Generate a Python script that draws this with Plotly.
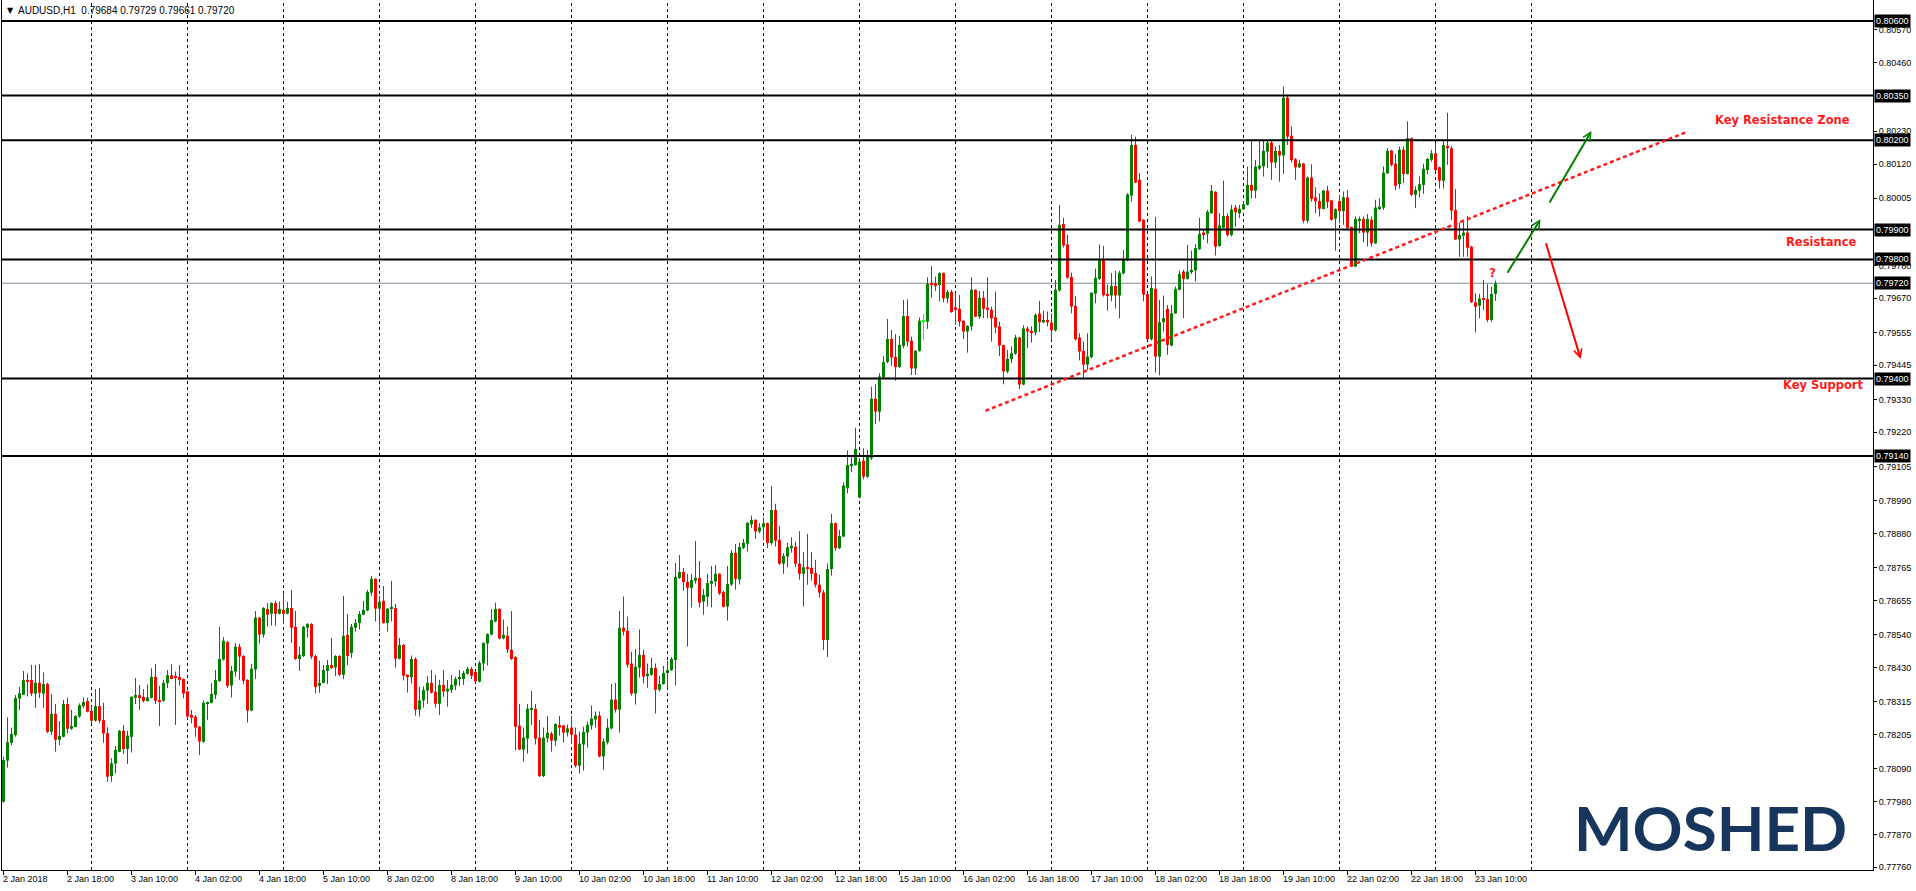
import pandas as pd
import plotly.graph_objects as go

# ---------------- data ----------------
symbol_text = "AUDUSD,H1  0.79684 0.79729 0.79661 0.79720"

opens = [
0.77980,0.78118,0.78178,0.78204,0.78326,0.78339,0.78389,0.78389,0.78343,0.78379,
0.78343,0.78375,0.78215,0.78275,0.78188,0.78198,0.78308,0.78225,0.78231,0.78266,
0.78301,0.78318,0.78285,0.78252,0.78301,0.78254,0.78210,0.78066,0.78108,0.78148,
0.78218,0.78157,0.78198,0.78329,0.78338,0.78332,0.78318,0.78329,0.78399,0.78319,
0.78319,0.78378,0.78405,0.78400,0.78399,0.78392,0.78350,0.78271,0.78265,0.78232,
0.78181,0.78309,0.78312,0.78339,0.78385,0.78457,0.78516,0.78370,0.78417,0.78500,
0.78469,0.78389,0.78286,0.78424,0.78598,0.78541,0.78627,0.78611,0.78647,0.78611,
0.78624,0.78611,0.78630,0.78567,0.78459,0.78469,0.78564,0.78577,0.78469,0.78369,
0.78379,0.78420,0.78439,0.78431,0.78469,0.78406,0.78540,0.78479,0.78564,0.78580,
0.78608,0.78622,0.78682,0.78728,0.78628,0.78654,0.78580,0.78628,0.78630,0.78460,
0.78506,0.78406,0.78398,0.78459,0.78289,0.78320,0.78353,0.78379,0.78349,0.78309,
0.78372,0.78350,0.78355,0.78370,0.78392,0.78392,0.78410,0.78426,0.78416,0.78383,
0.78444,0.78511,0.78541,0.78585,0.78627,0.78528,0.78537,0.78490,0.78466,0.78235,
0.78155,0.78192,0.78290,0.78292,0.78195,0.78066,0.78193,0.78209,0.78185,0.78238,
0.78236,0.78212,0.78229,0.78205,0.78101,0.78172,0.78212,0.78236,0.78256,0.78269,
0.78132,0.78179,0.78226,0.78323,0.78289,0.78564,0.78554,0.78444,0.78343,0.78430,
0.78473,0.78402,0.78406,0.78429,0.78356,0.78375,0.78412,0.78422,0.78456,0.78731,
0.78751,0.78718,0.78698,0.78722,0.78731,0.78652,0.78668,0.78712,0.78719,0.78745,
0.78684,0.78635,0.78709,0.78815,0.78726,0.78832,0.78846,0.78911,0.78926,0.78887,
0.78901,0.78915,0.78848,0.78959,0.78859,0.78779,0.78803,0.78831,0.78836,0.78779,
0.78745,0.78767,0.78765,0.78747,0.78708,0.78682,0.78523,0.78761,0.78915,0.78831,
0.78870,0.79032,0.79110,0.79110,0.79001,0.79125,0.79071,0.79133,0.79332,0.79289,
0.79405,0.79456,0.79533,0.79473,0.79439,0.79510,0.79610,0.79527,0.79434,0.79493,
0.79594,0.79591,0.79720,0.79720,0.79714,0.79754,0.79669,0.79691,0.79639,0.79634,
0.79594,0.79558,0.79575,0.79698,0.79608,0.79671,0.79638,0.79631,0.79606,0.79575,
0.79512,0.79424,0.79465,0.79484,0.79538,0.79380,0.79568,0.79560,0.79555,0.79618,
0.79589,0.79597,0.79588,0.79562,0.79696,0.79919,0.79850,0.79741,0.79644,0.79538,
0.79493,0.79447,0.79472,0.79685,0.79735,0.79798,0.79684,0.79679,0.79711,0.79679,
0.79753,0.79796,0.80014,0.80184,0.80067,0.79933,0.79684,0.79532,0.79701,0.79474,
0.79589,0.79634,0.79511,0.79619,0.79698,0.79759,0.79735,0.79757,0.79763,0.79834,
0.79890,0.79886,0.79955,0.80027,0.79845,0.79906,0.79946,0.79882,0.79974,0.79955,
0.79968,0.79983,0.80050,0.80031,0.80105,0.80112,0.80162,0.80192,0.80125,0.80164,
0.80149,0.80343,0.80215,0.80136,0.80109,0.80122,0.79930,0.80075,0.80008,0.79996,
0.79969,0.80031,0.79998,0.79937,0.79996,0.79962,0.80008,0.79909,0.79776,0.79930,
0.79936,0.79890,0.79933,0.79854,0.79971,0.79974,0.80089,0.80165,0.80121,0.80053,
0.80168,0.80087,0.80207,0.80017,0.80031,0.80050,0.80100,0.80134,0.80156,0.80109,
0.80064,0.80181,0.80173,0.79966,0.79867,0.79880,0.79890,0.79843,0.79656,0.79645,
0.79669,0.79667,0.79597,0.79684]

highs = [
0.78131,0.78263,0.78229,0.78338,0.78366,0.78419,0.78411,0.78439,0.78439,0.78442,
0.78414,0.78380,0.78342,0.78308,0.78251,0.78322,0.78330,0.78288,0.78271,0.78310,
0.78330,0.78329,0.78301,0.78358,0.78362,0.78312,0.78230,0.78126,0.78167,0.78221,
0.78238,0.78218,0.78334,0.78395,0.78372,0.78358,0.78374,0.78428,0.78442,0.78369,
0.78389,0.78422,0.78442,0.78417,0.78439,0.78394,0.78352,0.78288,0.78271,0.78234,
0.78320,0.78316,0.78378,0.78422,0.78568,0.78533,0.78520,0.78436,0.78513,0.78510,
0.78472,0.78391,0.78443,0.78620,0.78600,0.78633,0.78647,0.78649,0.78655,0.78652,
0.78681,0.78651,0.78691,0.78620,0.78500,0.78570,0.78579,0.78579,0.78473,0.78453,
0.78439,0.78456,0.78530,0.78472,0.78472,0.78671,0.78610,0.78577,0.78594,0.78620,
0.78654,0.78691,0.78738,0.78730,0.78671,0.78704,0.78630,0.78721,0.78644,0.78530,
0.78510,0.78408,0.78471,0.78465,0.78365,0.78367,0.78402,0.78422,0.78406,0.78389,
0.78422,0.78389,0.78406,0.78400,0.78422,0.78419,0.78433,0.78433,0.78419,0.78453,
0.78515,0.78545,0.78627,0.78648,0.78629,0.78591,0.78568,0.78620,0.78468,0.78308,
0.78229,0.78308,0.78352,0.78308,0.78255,0.78229,0.78268,0.78215,0.78243,0.78268,
0.78238,0.78239,0.78269,0.78229,0.78215,0.78232,0.78249,0.78303,0.78283,0.78283,
0.78192,0.78259,0.78375,0.78379,0.78620,0.78669,0.78601,0.78483,0.78493,0.78558,
0.78490,0.78444,0.78463,0.78444,0.78402,0.78436,0.78453,0.78466,0.78781,0.78808,
0.78765,0.78745,0.78745,0.78855,0.78788,0.78694,0.78745,0.78771,0.78775,0.78747,
0.78688,0.78771,0.78825,0.78845,0.78849,0.78862,0.78918,0.78940,0.78928,0.78915,
0.78934,0.78917,0.79040,0.78980,0.78906,0.78814,0.78850,0.78868,0.78853,0.78888,
0.78818,0.78879,0.78818,0.78792,0.78742,0.78691,0.78780,0.78946,0.78917,0.78892,
0.79052,0.79159,0.79141,0.79235,0.79133,0.79166,0.79161,0.79373,0.79381,0.79418,
0.79476,0.79600,0.79563,0.79549,0.79544,0.79664,0.79666,0.79541,0.79496,0.79605,
0.79617,0.79740,0.79778,0.79742,0.79756,0.79756,0.79698,0.79698,0.79687,0.79681,
0.79596,0.79579,0.79740,0.79700,0.79694,0.79694,0.79740,0.79642,0.79692,0.79591,
0.79514,0.79496,0.79508,0.79547,0.79540,0.79579,0.79575,0.79575,0.79619,0.79661,
0.79628,0.79625,0.79619,0.79731,0.79983,0.79940,0.79882,0.79756,0.79676,0.79552,
0.79524,0.79552,0.79690,0.79769,0.79850,0.79845,0.79715,0.79754,0.79762,0.79762,
0.79832,0.80022,0.80218,0.80212,0.80089,0.79935,0.79687,0.79743,0.79943,0.79664,
0.79679,0.79647,0.79647,0.79709,0.79763,0.79765,0.79849,0.79830,0.79851,0.79940,
0.79899,0.79966,0.80050,0.80029,0.79955,0.80064,0.79955,0.79983,0.79983,0.79983,
0.79994,0.80112,0.80201,0.80134,0.80199,0.80198,0.80198,0.80198,0.80179,0.80184,
0.80380,0.80349,0.80246,0.80140,0.80134,0.80124,0.80078,0.80119,0.80042,0.80022,
0.80033,0.80047,0.80000,0.79971,0.80017,0.80028,0.80033,0.79910,0.79944,0.79944,
0.79944,0.79952,0.79944,0.80000,0.80005,0.80112,0.80172,0.80168,0.80153,0.80179,
0.80179,0.80263,0.80209,0.80045,0.80078,0.80121,0.80140,0.80168,0.80190,0.80111,
0.80201,0.80292,0.80181,0.80036,0.79924,0.79927,0.79946,0.79845,0.79686,0.79684,
0.79731,0.79717,0.79709,0.79729]

lows = [
0.77977,0.78094,0.78170,0.78198,0.78288,0.78338,0.78333,0.78335,0.78295,0.78328,
0.78295,0.78210,0.78204,0.78148,0.78170,0.78196,0.78209,0.78221,0.78230,0.78262,
0.78294,0.78280,0.78243,0.78249,0.78243,0.78178,0.78047,0.78047,0.78075,0.78146,
0.78140,0.78107,0.78145,0.78308,0.78288,0.78313,0.78316,0.78326,0.78308,0.78234,
0.78316,0.78361,0.78391,0.78238,0.78370,0.78327,0.78257,0.78243,0.78198,0.78137,
0.78178,0.78254,0.78310,0.78325,0.78383,0.78454,0.78362,0.78330,0.78400,0.78389,
0.78374,0.78246,0.78284,0.78392,0.78511,0.78531,0.78568,0.78571,0.78571,0.78609,
0.78578,0.78609,0.78513,0.78456,0.78419,0.78466,0.78531,0.78459,0.78343,0.78346,
0.78377,0.78375,0.78426,0.78402,0.78402,0.78392,0.78439,0.78463,0.78551,0.78558,
0.78606,0.78619,0.78671,0.78585,0.78551,0.78578,0.78551,0.78585,0.78430,0.78458,
0.78387,0.78346,0.78377,0.78269,0.78266,0.78296,0.78309,0.78343,0.78296,0.78271,
0.78332,0.78299,0.78345,0.78355,0.78369,0.78372,0.78406,0.78392,0.78379,0.78381,
0.78419,0.78437,0.78539,0.78582,0.78525,0.78525,0.78479,0.78456,0.78152,0.78153,
0.78115,0.78142,0.78238,0.78172,0.78063,0.78063,0.78179,0.78148,0.78168,0.78202,
0.78179,0.78199,0.78175,0.78095,0.78075,0.78085,0.78162,0.78222,0.78229,0.78129,
0.78088,0.78172,0.78223,0.78279,0.78212,0.78538,0.78430,0.78336,0.78306,0.78397,
0.78377,0.78362,0.78403,0.78276,0.78350,0.78373,0.78360,0.78419,0.78370,0.78728,
0.78688,0.78501,0.78632,0.78712,0.78632,0.78608,0.78635,0.78632,0.78702,0.78674,
0.78632,0.78588,0.78705,0.78692,0.78709,0.78828,0.78820,0.78898,0.78862,0.78881,
0.78859,0.78831,0.78842,0.78836,0.78775,0.78745,0.78767,0.78816,0.78767,0.78725,
0.78635,0.78708,0.78722,0.78699,0.78665,0.78489,0.78466,0.78739,0.78822,0.78828,
0.78868,0.79015,0.79086,0.79108,0.78998,0.79062,0.79066,0.79127,0.79248,0.79256,
0.79402,0.79452,0.79443,0.79393,0.79435,0.79502,0.79508,0.79412,0.79412,0.79490,
0.79530,0.79567,0.79672,0.79694,0.79659,0.79656,0.79653,0.79621,0.79580,0.79575,
0.79533,0.79487,0.79561,0.79606,0.79600,0.79603,0.79603,0.79524,0.79552,0.79476,
0.79381,0.79418,0.79452,0.79480,0.79364,0.79378,0.79502,0.79521,0.79545,0.79556,
0.79586,0.79575,0.79528,0.79558,0.79692,0.79840,0.79735,0.79619,0.79528,0.79461,
0.79396,0.79429,0.79468,0.79653,0.79731,0.79675,0.79628,0.79659,0.79635,0.79602,
0.79750,0.79794,0.79994,0.80056,0.79925,0.79659,0.79528,0.79528,0.79420,0.79411,
0.79558,0.79480,0.79509,0.79617,0.79696,0.79603,0.79732,0.79751,0.79726,0.79832,
0.79866,0.79854,0.79953,0.79813,0.79843,0.79904,0.79877,0.79877,0.79910,0.79938,
0.79966,0.79981,0.80005,0.80005,0.80100,0.80078,0.80106,0.80067,0.80106,0.80061,
0.80087,0.80184,0.80125,0.80067,0.80107,0.79921,0.79921,0.79994,0.79955,0.79944,
0.79968,0.79972,0.79930,0.79829,0.79921,0.79916,0.79901,0.79774,0.79774,0.79888,
0.79858,0.79843,0.79843,0.79852,0.79966,0.79966,0.80087,0.80112,0.80033,0.80037,
0.80056,0.80085,0.80013,0.79972,0.80008,0.80020,0.80086,0.80128,0.80094,0.80038,
0.80038,0.80117,0.79932,0.79865,0.79809,0.79809,0.79809,0.79654,0.79555,0.79602,
0.79630,0.79589,0.79591,0.79661]

closes = [
0.78120,0.78180,0.78207,0.78328,0.78344,0.78389,0.78385,0.78343,0.78379,0.78346,
0.78375,0.78215,0.78275,0.78188,0.78201,0.78308,0.78225,0.78234,0.78268,0.78304,
0.78315,0.78282,0.78252,0.78301,0.78252,0.78209,0.78064,0.78109,0.78154,0.78218,
0.78157,0.78202,0.78332,0.78338,0.78328,0.78318,0.78330,0.78399,0.78319,0.78316,
0.78379,0.78405,0.78392,0.78396,0.78389,0.78343,0.78266,0.78262,0.78229,0.78182,
0.78312,0.78312,0.78342,0.78389,0.78459,0.78520,0.78369,0.78419,0.78500,0.78467,
0.78386,0.78286,0.78426,0.78598,0.78541,0.78630,0.78608,0.78647,0.78611,0.78627,
0.78611,0.78630,0.78564,0.78459,0.78473,0.78567,0.78577,0.78467,0.78365,0.78379,
0.78422,0.78439,0.78429,0.78469,0.78406,0.78537,0.78469,0.78567,0.78580,0.78610,
0.78624,0.78684,0.78728,0.78628,0.78651,0.78580,0.78628,0.78630,0.78460,0.78506,
0.78403,0.78398,0.78459,0.78289,0.78320,0.78355,0.78379,0.78346,0.78309,0.78372,
0.78350,0.78359,0.78372,0.78392,0.78396,0.78412,0.78426,0.78403,0.78384,0.78446,
0.78513,0.78543,0.78590,0.78627,0.78528,0.78540,0.78491,0.78459,0.78232,0.78155,
0.78195,0.78292,0.78292,0.78192,0.78066,0.78195,0.78212,0.78185,0.78241,0.78229,
0.78212,0.78226,0.78205,0.78101,0.78175,0.78214,0.78238,0.78259,0.78269,0.78132,
0.78182,0.78229,0.78323,0.78289,0.78564,0.78551,0.78440,0.78343,0.78433,0.78473,
0.78400,0.78409,0.78429,0.78356,0.78375,0.78412,0.78422,0.78459,0.78735,0.78751,
0.78717,0.78698,0.78724,0.78731,0.78648,0.78674,0.78714,0.78721,0.78745,0.78679,
0.78634,0.78711,0.78815,0.78728,0.78835,0.78849,0.78916,0.78926,0.78887,0.78901,
0.78915,0.78848,0.78959,0.78856,0.78779,0.78805,0.78834,0.78839,0.78779,0.78745,
0.78767,0.78765,0.78745,0.78708,0.78682,0.78523,0.78761,0.78915,0.78831,0.78872,
0.79041,0.79110,0.79114,0.79164,0.79122,0.79071,0.79138,0.79332,0.79289,0.79407,
0.79456,0.79533,0.79471,0.79439,0.79513,0.79610,0.79524,0.79434,0.79493,0.79594,
0.79594,0.79718,0.79717,0.79714,0.79754,0.79669,0.79691,0.79623,0.79631,0.79591,
0.79558,0.79577,0.79698,0.79608,0.79671,0.79634,0.79631,0.79602,0.79572,0.79511,
0.79424,0.79466,0.79485,0.79538,0.79380,0.79568,0.79558,0.79555,0.79614,0.79589,
0.79597,0.79589,0.79562,0.79698,0.79916,0.79847,0.79739,0.79642,0.79532,0.79491,
0.79447,0.79474,0.79688,0.79738,0.79798,0.79680,0.79679,0.79711,0.79679,0.79755,
0.79798,0.80018,0.80184,0.80058,0.79927,0.79682,0.79532,0.79704,0.79474,0.79589,
0.79603,0.79513,0.79619,0.79701,0.79751,0.79735,0.79759,0.79765,0.79838,0.79886,
0.79885,0.79960,0.80030,0.79843,0.79914,0.79946,0.79882,0.79968,0.79958,0.79970,
0.79985,0.80050,0.80031,0.80111,0.80115,0.80164,0.80192,0.80125,0.80164,0.80149,
0.80343,0.80212,0.80133,0.80109,0.80122,0.79930,0.80075,0.80003,0.79995,0.79970,
0.80031,0.79993,0.79933,0.79969,0.79962,0.80008,0.79906,0.79776,0.79936,0.79936,
0.79890,0.79936,0.79854,0.79974,0.79977,0.80091,0.80164,0.80117,0.80047,0.80168,
0.80087,0.80207,0.80017,0.80033,0.80052,0.80104,0.80137,0.80156,0.80100,0.80064,
0.80184,0.80173,0.79964,0.79867,0.79882,0.79890,0.79839,0.79656,0.79641,0.79669,
0.79667,0.79597,0.79684,0.79720]

first_bar_time = "2018-01-02 02:00"

time_label_times = [
"2018-01-02 02:00","2018-01-02 18:00","2018-01-03 10:00","2018-01-04 02:00",
"2018-01-04 18:00","2018-01-05 10:00","2018-01-08 02:00","2018-01-08 18:00",
"2018-01-09 10:00","2018-01-10 02:00","2018-01-10 18:00","2018-01-11 10:00",
"2018-01-12 02:00","2018-01-12 18:00","2018-01-15 10:00","2018-01-16 02:00",
"2018-01-16 18:00","2018-01-17 10:00","2018-01-18 02:00","2018-01-18 18:00",
"2018-01-19 10:00","2018-01-22 02:00","2018-01-22 18:00","2018-01-23 10:00"]
time_label_texts = [
"2 Jan 2018","2 Jan 18:00","3 Jan 10:00","4 Jan 02:00","4 Jan 18:00","5 Jan 10:00",
"8 Jan 02:00","8 Jan 18:00","9 Jan 10:00","10 Jan 02:00","10 Jan 18:00","11 Jan 10:00",
"12 Jan 02:00","12 Jan 18:00","15 Jan 10:00","16 Jan 02:00","16 Jan 18:00","17 Jan 10:00",
"18 Jan 02:00","18 Jan 18:00","19 Jan 10:00","22 Jan 02:00","22 Jan 18:00","23 Jan 10:00"]

grid_days = ["2018-01-03","2018-01-04","2018-01-05","2018-01-08","2018-01-09",
             "2018-01-10","2018-01-11","2018-01-12","2018-01-15","2018-01-16",
             "2018-01-17","2018-01-18","2018-01-19","2018-01-22","2018-01-23",
             "2018-01-24"]

price_ticks = [0.80570,0.80460,0.80230,0.80120,0.80005,0.79780,0.79670,0.79555,
               0.79445,0.79330,0.79220,0.79105,0.78990,0.78880,0.78765,0.78655,
               0.78540,0.78430,0.78315,0.78205,0.78090,0.77980,0.77870,0.77760]

level_prices = [0.80600, 0.80350, 0.80200, 0.79900, 0.79800, 0.79400, 0.79140]
current_price = 0.79720
y_range = [0.777510, 0.806705]

# trend line (bar index, price) and arrows (tail -> head)
trend_x = [245.5, 420.7]
trend_y = [0.79292, 0.80227]
arrows = [
    dict(tail=(375.75, 0.79750), head=(384.25, 0.79935), color="#008000"),
    dict(tail=(386.3, 0.79986), head=(397.0, 0.80231), color="#008000"),
    dict(tail=(385.5, 0.79859), head=(394.3, 0.79466), color="#ff0000"),
]
notes = [
    dict(text="Key Resistance Zone", x=427.4, y=0.80268),
    dict(text="Resistance", x=445.2, y=0.79858),
    dict(text="Key Support", x=444.4, y=0.79378),
]
question_pos = (372.25, 0.79755)

# ---------------- build ----------------
W, H = 1916, 891
ML, MR, MT, MB = 2, 43, 0, 21
PW = W - ML - MR
PH = H - MT - MB
x_range = [-0.375, -0.375 + PW / 4.0]

n = len(closes)
all_times = pd.date_range(first_bar_time, "2018-01-31 23:00", freq="h")
all_times = all_times[all_times.dayofweek < 5]
label_pos = list(all_times.get_indexer(pd.to_datetime(time_label_times)))
grid_pos = list(all_times.get_indexer(pd.to_datetime(grid_days)))

GREEN, RED, LIME = "#008000", "#ff0000", "#00ff00"
idx = list(range(n))
colors, bases, heights = [], [], []
wick = {GREEN: ([], []), RED: ([], []), LIME: ([], [])}
min_body = (y_range[1] - y_range[0]) / PH  # one pixel
for i in idx:
    o, c = opens[i], closes[i]
    col = GREEN if c > o else (RED if c < o else LIME)
    colors.append(col)
    lo = min(o, c)
    hgt = abs(c - o)
    if hgt < min_body:
        lo -= (min_body - hgt) / 2
        hgt = min_body
    bases.append(lo)
    heights.append(hgt)
    wx, wy = wick[col]
    wx += [i, i, None]
    wy += [lows[i], highs[i], None]

fig = go.Figure()
for col, (wx, wy) in wick.items():
    fig.add_trace(go.Scatter(x=wx, y=wy, mode="lines",
                             line=dict(color=col, width=1),
                             hoverinfo="skip", showlegend=False))
fig.add_trace(go.Bar(x=idx, y=heights, base=bases, width=0.75,
                     marker=dict(color=colors, line=dict(width=0)),
                     hoverinfo="skip", showlegend=False))

shapes = []
for g in grid_pos:
    shapes.append(dict(type="line", xref="x", yref="paper", x0=g, x1=g, y0=0, y1=1,
                       line=dict(color="black", width=1, dash="3px,3px"), layer="below"))
shapes.append(dict(type="line", xref="paper", yref="y", x0=0, x1=1,
                   y0=current_price, y1=current_price,
                   line=dict(color="#7a8999", width=1), layer="below"))
for lv in level_prices:
    shapes.append(dict(type="line", xref="paper", yref="y", x0=0, x1=1, y0=lv, y1=lv,
                       line=dict(color="black", width=2), layer="above"))
shapes.append(dict(type="line", xref="x", yref="y", x0=trend_x[0], x1=trend_x[1],
                   y0=trend_y[0], y1=trend_y[1],
                   line=dict(color="#ff1a1a", width=2.5, dash="4px,3px"), layer="above"))

AXF = "Liberation Sans, Arial, sans-serif"
ann = []
# header
ann.append(dict(text="▼", xref="paper", yref="paper", x=(5 - ML) / PW, y=1 - 11 / PH,
                xanchor="left", yanchor="middle", showarrow=False,
                font=dict(family="DejaVu Sans", size=8, color="black")))
ann.append(dict(text=symbol_text, xref="paper", yref="paper", x=(16 - ML) / PW, y=1 - 11 / PH,
                xanchor="left", yanchor="middle", showarrow=False,
                font=dict(family=AXF, size=10, color="black")))
# time labels
for p, t in zip(label_pos, time_label_texts):
    ann.append(dict(text=t, xref="x", yref="paper", x=p, y=0, xanchor="left", yanchor="top",
                    xshift=-3, yshift=-2, showarrow=False,
                    font=dict(family=AXF, size=9, color="black")))
# level labels
for lv in level_prices + [current_price]:
    ann.append(dict(text=f"{lv:.5f}", xref="paper", yref="y", x=1, y=lv,
                    xanchor="left", yanchor="middle", xshift=1, showarrow=False,
                    bgcolor="black", borderpad=1,
                    font=dict(family=AXF, size=9, color="white")))
# notes
for nt in notes:
    ann.append(dict(text=nt["text"], xref="x", yref="y", x=nt["x"], y=nt["y"],
                    xanchor="left", yanchor="middle", showarrow=False,
                    font=dict(family="DejaVu Sans", size=11.5, color="#ff1a1a", weight="bold")))
ann.append(dict(text="?", xref="x", yref="y", x=question_pos[0], y=question_pos[1],
                xanchor="center", yanchor="middle", showarrow=False,
                font=dict(family="DejaVu Sans", size=12, color="#ff1a1a", weight="bold")))
# arrows
for a in arrows:
    ann.append(dict(text="", xref="x", yref="y", axref="x", ayref="y",
                    x=a["head"][0], y=a["head"][1], ax=a["tail"][0], ay=a["tail"][1],
                    showarrow=True, arrowhead=5, arrowsize=0.8, arrowwidth=2,
                    arrowcolor=a["color"], standoff=0, startstandoff=0))
# logo
ann.append(dict(text="MOSHED", xref="paper", yref="paper", x=(1710.5 - ML) / PW,
                y=1 - 827 / PH, xanchor="center", yanchor="middle", showarrow=False,
                font=dict(family="Lato", size=62, color="#17365d", weight="bold")))

fig.update_layout(
    width=W, height=H, margin=dict(l=ML, r=MR, t=MT, b=MB, pad=0),
    paper_bgcolor="white", plot_bgcolor="white",
    shapes=shapes, annotations=ann, showlegend=False, hovermode=False,
    barmode="overlay",
    xaxis=dict(range=x_range, showgrid=False, zeroline=False, showline=True,
               linecolor="black", linewidth=1, mirror=True,
               tickvals=label_pos, showticklabels=False, ticks="outside",
               ticklen=4, tickcolor="black", tickwidth=1, fixedrange=True),
    yaxis=dict(range=y_range, side="right", showgrid=False, zeroline=False,
               showline=True, linecolor="black", linewidth=1, mirror=True,
               tickvals=price_ticks, ticktext=[f"{v:.5f}" for v in price_ticks],
               ticks="outside", ticklen=3, tickcolor="black", tickwidth=1,
               tickfont=dict(family=AXF, size=9, color="black"), fixedrange=True),
)

fig.write_html("out.html", config={"displayModeBar": False},
               post_script="document.body.style.margin='0px';document.body.style.overflow='hidden';")
